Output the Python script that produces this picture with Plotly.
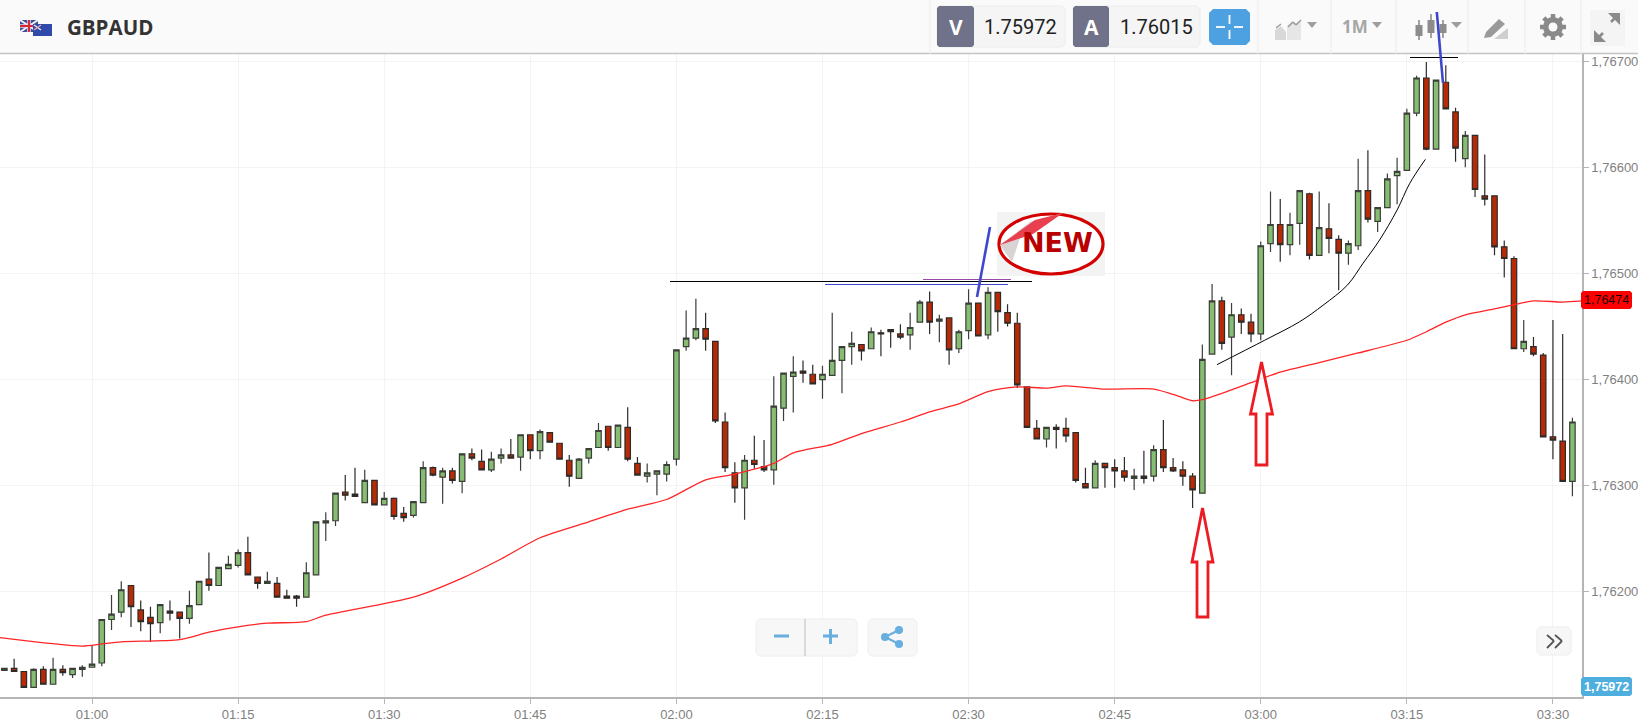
import math

import pandas as pd
import plotly.graph_objects as go

W = 1638
H = 728
PLOT_RIGHT = 1582
PLOT_TOP = 54
PLOT_BOTTOM = 697

# prices are written as points above 1.76000 (1 point = 0.00001)
opens_pts = [
    126,128,125,110,127,113,127,122,127,129,
    133,174,181,206,183,176,171,182,181,175,
    188,212,206,222,225,237,214,208,208,196,
    196,195,216,265,267,294,292,284,305,282,
    288,274,272,284,317,308,314,304,330,323,
    315,326,329,327,348,333,350,340,324,307,
    326,336,356,336,355,321,309,311,311,325,
    431,439,448,436,360,312,298,324,318,315,
    373,403,408,405,400,404,418,431,433,429,
    444,447,443,442,454,473,455,458,429,446,
    472,442,482,463,453,393,354,344,355,354,
    350,302,298,321,317,314,307,309,309,334,
    317,315,309,293,424,474,440,461,454,443,
    528,546,527,547,575,517,542,532,519,526,
    578,549,562,592,597,651,684,617,680,652,
    608,630,573,573,525,514,429,431,423,346,
    342,304]
closes_pts = [
    128,125,110,127,113,127,124,128,129,132,
    174,179,202,186,172,170,188,180,175,187,
    210,206,223,226,237,216,208,210,195,194,
    194,218,266,267,293,291,290,305,282,288,
    271,270,285,317,310,314,305,330,326,315,
    325,329,326,348,333,351,341,325,309,325,
    335,352,336,357,325,310,312,314,320,428,
    439,448,438,361,317,298,324,320,315,375,
    406,407,406,396,405,418,431,434,427,445,
    443,445,440,449,473,454,457,428,445,472,
    441,482,464,453,395,355,344,355,353,347,
    305,298,321,317,314,308,309,307,334,317,
    314,309,296,419,474,434,461,454,443,526,
    546,527,546,578,517,543,533,519,528,578,
    551,562,589,596,651,684,617,682,655,618,
    630,579,570,525,514,429,436,424,346,343,
    304,360]
highs_pts = [
    128,137,125,128,130,138,131,128,131,149,
    174,197,210,206,192,186,188,192,181,201,
    210,237,223,234,240,252,214,219,214,202,
    197,228,266,275,293,310,317,315,305,294,
    289,280,285,323,318,317,317,330,335,334,
    332,335,344,348,348,353,350,340,329,326,
    335,359,356,357,374,327,321,314,323,428,
    465,476,463,436,369,322,329,347,343,403,
    406,422,418,414,413,463,431,445,433,449,
    447,447,452,463,475,483,461,458,447,485,
    472,487,482,471,463,393,362,355,358,364,
    350,317,324,321,325,327,316,333,338,362,
    326,323,312,433,490,478,472,467,462,530,
    577,570,557,578,576,577,566,536,531,608,
    616,562,594,609,655,686,699,682,696,656,
    634,630,612,573,531,516,456,440,425,456,
    443,364]
lows_pts = [
    126,125,110,110,113,113,121,119,120,129,
    130,164,176,167,163,153,161,173,156,170,
    188,201,206,222,223,216,203,208,195,194,
    186,195,216,248,262,286,290,284,282,282,
    268,266,270,284,309,283,302,293,324,315,
    313,321,326,314,325,325,341,325,299,307,
    321,336,333,336,323,310,303,291,304,319,
    427,437,427,359,313,284,268,316,313,301,
    361,369,397,396,382,404,387,414,418,429,
    422,430,438,428,454,443,435,414,425,438,
    441,438,445,450,392,355,344,336,335,341,
    303,298,298,298,298,304,296,302,304,313,
    313,300,279,293,424,428,404,443,435,437,
    520,511,517,527,513,517,519,484,508,522,
    548,539,562,565,597,648,616,617,655,605,
    600,572,564,517,496,429,426,422,346,325,
    304,290]

ma_times = [
    "00:50:30","00:59","01:01","01:03","01:09","01:12","01:15","01:18","01:22","01:24",
    "01:33","01:38","01:42","01:46","01:51","01:55","01:59","02:03","02:06","02:10",
    "02:12","02:16","02:19","02:23","02:26","02:29","02:32","02:35","02:38","02:40",
    "02:44","02:49","02:51","02:53","02:54","02:56","02:59","03:02","03:06","03:10",
    "03:15","03:17","03:19","03:21","03:24","03:26","03:28","03:31","03:33"]
ma_pts = [
    157,149,151,153,155,162,167,170.5,172,178,
    195,213,231,251,266,278,287,305.5,311,321,
    331,339,349,360,369.5,377,388.6,393,392,394,
    391,391,386,380,381,387,397,407,416,425,
    437,445,454,461,466.5,470.5,474,473,474]

curve_times = ["02:55:30","03:00:24","03:04:00","03:06:24","03:08:54","03:10:30","03:12:12","03:14:00","03:15:18","03:16:54"]
curve_pts = [414,437,454.5,470,489,509.5,531.4,559.7,584.8,607.4]

price_ticks = [1.762, 1.763, 1.764, 1.765, 1.766, 1.767]
time_ticks = ["01:00","01:15","01:30","01:45","02:00","02:15","02:30","02:45","03:00","03:15","03:30"]

DAY = "2024-01-01 "


def price(points):
    return [1.76 + p / 1e5 for p in points]


def stamp(times):
    return [DAY + t for t in times]


def px(x):
    return x / W


def py(y):
    return 1 - y / H


def rect(x0, y0, x1, y1, fill, line=None, width=1):
    return dict(type="rect", xref="paper", yref="paper", x0=px(x0), x1=px(x1), y0=py(y0), y1=py(y1),
                fillcolor=fill, line=dict(color=line or fill, width=width if line else 0), layer="above")


def seg(x0, y0, x1, y1, color, width=1):
    return dict(type="line", xref="paper", yref="paper", x0=px(x0), x1=px(x1), y0=py(y0), y1=py(y1),
                line=dict(color=color, width=width), layer="above")


def circle(x0, y0, x1, y1, fill, line=None, width=1):
    return dict(type="circle", xref="paper", yref="paper", x0=px(x0), x1=px(x1), y0=py(y0), y1=py(y1),
                fillcolor=fill, line=dict(color=line or fill, width=width if line else 0), layer="above")


def poly(points, fill, line=None, width=1):
    path = "M" + " L".join(f"{px(x):.5f},{py(y):.5f}" for x, y in points) + " Z"
    return dict(type="path", xref="paper", yref="paper", path=path, fillcolor=fill,
                line=dict(color=line or fill, width=width if line else 0), layer="above")


def rounded(x0, y0, x1, y1, r, fill, line=None):
    pts = [(x0 + r, y0), (x1 - r, y0), (x1, y0 + r), (x1, y1 - r), (x1 - r, y1), (x0 + r, y1), (x0, y1 - r), (x0, y0 + r)]
    return poly(pts, fill, line)


def label(x, y, text, size, color, family="Liberation Sans", bold=False):
    shown = f"<b>{text}</b>" if bold else text
    return dict(xref="paper", yref="paper", x=px(x), y=py(y), text=shown, showarrow=False,
                font=dict(size=size, color=color, family=family), xanchor="center", yanchor="middle")


fig = go.Figure()

times = pd.date_range(DAY + "00:51", periods=len(opens_pts), freq="min")
fig.add_trace(go.Candlestick(
    x=times, open=price(opens_pts), high=price(highs_pts), low=price(lows_pts), close=price(closes_pts),
    increasing=dict(fillcolor="#86bd72", line=dict(color="#3a3f38", width=1.2)),
    decreasing=dict(fillcolor="#b82a06", line=dict(color="#2e2a28", width=1.2)),
    whiskerwidth=0, showlegend=False, hoverinfo="skip"))

fig.add_trace(go.Scatter(x=stamp(ma_times), y=price(ma_pts), mode="lines",
                         line=dict(color="#ff2426", width=1.3, shape="spline", smoothing=0.7),
                         showlegend=False, hoverinfo="skip"))
fig.add_trace(go.Scatter(x=stamp(curve_times), y=price(curve_pts), mode="lines",
                         line=dict(color="#000000", width=1, shape="spline"), showlegend=False, hoverinfo="skip"))

shapes = []
annos = []

# trend lines drawn by hand on the chart
shapes.append(seg(670, 281.5, 1032, 281.5, "#000000", 1))
shapes.append(seg(825, 284.5, 1008, 284.5, "#3f48cc", 1))
shapes.append(seg(923, 279.5, 1011, 279.5, "#9a4aa8", 1))
shapes.append(seg(977, 297, 990, 227, "#3f48cc", 2.6))
shapes.append(seg(1410, 57.5, 1458, 57.5, "#000000", 1))

# header bar
shapes.append(rect(0, 0, W, PLOT_TOP - 1, "#fafafa"))
shapes.append(seg(0, PLOT_TOP - 0.5, W, PLOT_TOP - 0.5, "#c4c4c4", 1.5))
for x in [930, 1258, 1331, 1396, 1468, 1525, 1581]:
    shapes.append(seg(x, 0, x, PLOT_TOP, "#ececec", 1))

# flags
shapes.append(rect(20, 20, 38, 32, "#3c4fa0"))
shapes.append(seg(20, 20, 38, 32, "#f4f4f4", 2))
shapes.append(seg(20, 32, 38, 20, "#f4f4f4", 2))
shapes.append(seg(29, 20, 29, 32, "#e8dede", 3.5))
shapes.append(seg(20, 26, 38, 26, "#e8dede", 3.5))
shapes.append(seg(29, 20, 29, 32, "#d8283a", 2))
shapes.append(seg(20, 26, 38, 26, "#d8283a", 2))
shapes.append(rect(33, 24, 52, 36, "#2f4aa8"))
shapes.append(seg(34, 25, 41, 30, "#e8e8f4", 1.5))
shapes.append(seg(41, 25, 34, 30, "#e8a0a8", 1.5))
annos.append(label(110, 27, "GBPAUD", 20.5, "#333333", "Open Sans", True))

# bid / ask boxes
shapes.append(rounded(937, 6, 1065, 47, 3, "#f5f5f5", "#ececec"))
shapes.append(rounded(937, 6, 974, 47, 2, "#6f7288"))
annos.append(label(956, 27, "V", 21, "#ffffff", "Open Sans", True))
annos.append(label(1020, 27, "1.75972", 20, "#222222", "Roboto"))
shapes.append(rounded(1073, 6, 1200, 47, 3, "#f5f5f5", "#ececec"))
shapes.append(rounded(1073, 6, 1109, 47, 2, "#6f7288"))
annos.append(label(1091, 27, "A", 21, "#ffffff", "Open Sans", True))
annos.append(label(1156, 27, "1.76015", 20, "#222222", "Roboto"))

# crosshair button
shapes.append(rounded(1209, 9, 1250, 45, 4, "#4ea1e0"))
for a in [(1229.5, 15, 1229.5, 24), (1229.5, 30, 1229.5, 39), (1216, 27, 1225, 27), (1234, 27, 1243, 27)]:
    shapes.append(seg(*a, "#ffffff", 1.8))

# chart type icon
shapes.append(poly([(1275, 40), (1275, 30), (1281, 26), (1286, 32), (1286, 40)], "#d8d8d8"))
shapes.append(poly([(1287, 40), (1287, 26), (1292, 21), (1296, 23), (1301, 20), (1301, 40)], "#e6e6e6"))
shapes.append(seg(1276, 28, 1281, 24, "#9a9a9a", 1.5))
shapes.append(seg(1288, 27, 1293, 22, "#9a9a9a", 1.5))
shapes.append(seg(1293, 22, 1296, 25, "#9a9a9a", 1.5))
shapes.append(seg(1296, 25, 1301, 20, "#9a9a9a", 1.5))
shapes.append(poly([(1307, 22), (1317, 22), (1312, 28)], "#9e9e9e"))
annos.append(label(1355, 27, "1M", 17, "#a6a6a6", "Open Sans", True))
shapes.append(poly([(1372, 22), (1382, 22), (1377, 28)], "#9e9e9e"))

# candles icon
for x, y0, y1, t, b in [(1419, 20, 40, 25, 36), (1431, 14, 38, 20, 33), (1443, 20, 38, 24, 33)]:
    shapes.append(seg(x, y0, x, y1, "#8c8c8c", 1.6))
    shapes.append(rect(x - 3.5, t, x + 3.5, b, "#8c8c8c"))
shapes.append(poly([(1451, 22), (1462, 22), (1456.5, 28)], "#9e9e9e"))

# drawing tools icon
shapes.append(poly([(1484, 38), (1486, 32), (1499, 19), (1505, 24), (1491, 37)], "#9a9a9a"))
shapes.append(poly([(1494, 39), (1508, 28), (1508, 39)], "#cfcfcf"))

# gear icon
gx, gy = 1553, 27
for k in range(8):
    a = k * math.pi / 4
    shapes.append(seg(gx + 7 * math.cos(a), gy + 7 * math.sin(a), gx + 13 * math.cos(a), gy + 13 * math.sin(a), "#8a8a8a", 4.5))
shapes.append(circle(gx - 10, gy - 10, gx + 10, gy + 10, "#8a8a8a"))
shapes.append(circle(gx - 4.5, gy - 4.5, gx + 4.5, gy + 4.5, "#fafafa"))

# expand icon
shapes.append(rect(1590, 10, 1625, 46, "#f4f4f4"))
shapes.append(seg(1611, 22, 1617, 16, "#8a8a8a", 2.6))
shapes.append(poly([(1608, 13), (1620, 13), (1620, 25)], "#8a8a8a"))
shapes.append(seg(1603, 33, 1597, 39, "#8a8a8a", 2.6))
shapes.append(poly([(1594, 30), (1594, 42), (1606, 42)], "#8a8a8a"))

# blue stroke that crosses the header
shapes.append(seg(1436.8, 12, 1443, 83, "#3f48cc", 2.6))

# NEW badge
shapes.append(rect(997, 212, 1105, 276, "#f3f3f3"))
shapes.append(circle(999, 214, 1103, 274, "#ffffff", "#d40000", 3.2))
shapes.append(poly([(1000, 245), (1012, 262), (1022, 232), (1045, 224), (1063, 213), (1030, 222)], "#d8d4d4"))
shapes.append(poly([(1000, 245), (1033, 234), (1063, 213), (1035, 220)], "#e8404e"))
annos.append(label(1057, 243, "NEW", 27, "#b80000", "DejaVu Sans", True))

# red arrows
for cx, tip, head, end, hw, sw in [(1202.5, 508, 562, 617, 10.5, 5.5), (1261.5, 362, 414, 465, 11, 5.5)]:
    shapes.append(poly([(cx, tip), (cx + hw, head), (cx + sw, head), (cx + sw, end), (cx - sw, end),
                        (cx - sw, head), (cx - hw, head)], "rgba(255,255,255,0.9)", "#ed1c24", 2.8))

# zoom and share buttons
shapes.append(rounded(756, 619, 857, 656, 3, "#f7f7f7", "#eeeeee"))
shapes.append(seg(805, 619, 805, 656, "#bdbdbd", 1))
shapes.append(seg(774, 636, 789, 636, "#68aede", 3))
shapes.append(seg(823, 636, 838, 636, "#68aede", 3))
shapes.append(seg(830.5, 629, 830.5, 644, "#68aede", 3))
shapes.append(rounded(868, 619, 917, 656, 3, "#f7f7f7", "#eeeeee"))
shapes.append(seg(885, 637, 899, 630, "#68aede", 2))
shapes.append(seg(885, 637, 899, 644, "#68aede", 2))
for cx, cy in [(885, 637), (899, 630), (899, 644)]:
    shapes.append(circle(cx - 4, cy - 4, cx + 4, cy + 4, "#68aede"))

# scroll button
shapes.append(rounded(1537, 627, 1571, 655, 3, "#f7f7f7", "#eeeeee"))
for dx in [0, 8]:
    shapes.append(seg(1547 + dx, 635, 1554 + dx, 641, "#555555", 1.8))
    shapes.append(seg(1554 + dx, 641, 1547 + dx, 648, "#555555", 1.8))

# price tags on the axis
shapes.append(rounded(1581, 291, 1632, 309, 2, "#ff0000"))
annos.append(label(1606.5, 300, "1,76474", 12.5, "#1a0000"))
shapes.append(rounded(1581, 677, 1632, 696, 2, "#4eaede"))
annos.append(label(1606.5, 686.5, "1,75972", 12.5, "#ffffff", bold=True))

fig.update_layout(
    width=W, height=H, autosize=False,
    margin=dict(l=0, r=0, t=0, b=0),
    paper_bgcolor="#ffffff", plot_bgcolor="#ffffff",
    separators=",.",
    hovermode=False,
    boxgap=0.2,
    shapes=shapes, annotations=annos,
    font=dict(family="Liberation Sans", size=13, color="#7a7a7a"),
    xaxis=dict(
        domain=[0, PLOT_RIGHT / W],
        range=[DAY + "00:50:33", DAY + "03:32:59"],
        rangeslider=dict(visible=False),
        tickmode="array", tickvals=stamp(time_ticks), ticktext=time_ticks,
        ticks="outside", ticklen=5, tickcolor="#b5b5b5",
        showgrid=True, gridcolor="#f4f4f4", gridwidth=1,
        showline=True, linecolor="#b5b5b5", linewidth=1.5,
        zeroline=False,
        tickfont=dict(size=13, color="#7f7f7f"),
    ),
    yaxis=dict(
        domain=[1 - PLOT_BOTTOM / H, 1 - PLOT_TOP / H],
        range=[1.76101, 1.767066],
        side="right",
        tickmode="array", tickvals=price_ticks, tickformat=".5f",
        ticks="outside", ticklen=5, tickcolor="#b5b5b5",
        showgrid=True, gridcolor="#f4f4f4", gridwidth=1,
        showline=True, linecolor="#b5b5b5", linewidth=1.5,
        zeroline=False,
        tickfont=dict(size=13, color="#7f7f7f"),
    ),
)

fig.write_html("out.html", config=dict(displayModeBar=False),
               post_script="document.body.style.margin='0';document.body.style.overflow='hidden';")
